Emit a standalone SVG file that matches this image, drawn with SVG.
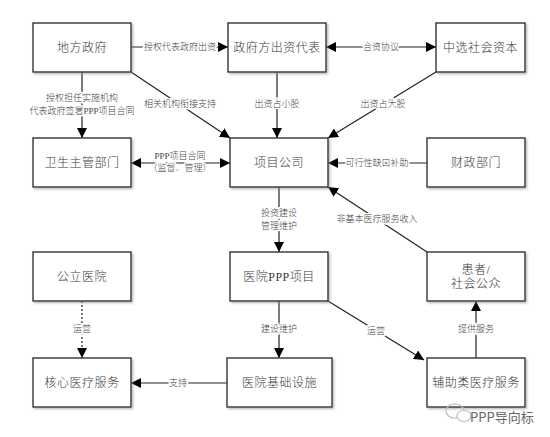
<svg xmlns="http://www.w3.org/2000/svg" width="550" height="437" viewBox="0 0 550 437">
<defs>
<marker id="ah" viewBox="0 0 10 10" refX="10" refY="5" markerWidth="10" markerHeight="10" markerUnits="userSpaceOnUse" orient="auto-start-reverse">
<path d="M0,0 L10,5 L0,10 z" fill="#000"/>
</marker>
<filter id="sh" x="-10%" y="-10%" width="130%" height="130%">
<feDropShadow dx="1.5" dy="1.5" stdDeviation="0.8" flood-color="#888" flood-opacity="0.6"/>
</filter>
</defs>
<style>
.box{fill:#fff;stroke:#222;stroke-width:1.3;filter:url(#sh)}
.bt{font-family:"Liberation Serif","Noto Sans CJK SC",serif;font-size:12px;font-weight:300;fill:#3a3a3a;text-anchor:middle;dominant-baseline:central;letter-spacing:0.5px}
.ln{stroke:#222;stroke-width:1.2;fill:none}
.lb{font-family:"Liberation Serif","Noto Sans CJK SC",serif;font-size:9px;font-weight:300;fill:#444;text-anchor:middle;dominant-baseline:central;stroke:#fff;stroke-width:3;paint-order:stroke}
</style>
<rect width="550" height="437" fill="#fff"/>
<g id="connectors">
<line class="ln" x1="131" y1="47" x2="228" y2="47" marker-end="url(#ah)"/>
<text class="lb" x="180" y="47">授权代表政府出资</text>
<line class="ln" x1="326" y1="47" x2="436" y2="47" marker-start="url(#ah)" marker-end="url(#ah)"/>
<text class="lb" x="381" y="47">合资协议</text>
<line class="ln" x1="82" y1="72" x2="82" y2="138" marker-end="url(#ah)"/>
<text class="lb" x="82" y="98">授权担任实施机构</text>
<text class="lb" x="82" y="111">代表政府签署PPP项目合同</text>
<line class="ln" x1="131" y1="72" x2="230" y2="138" marker-end="url(#ah)"/>
<text class="lb" x="180" y="104">相关机构衔接支持</text>
<line class="ln" x1="277" y1="72" x2="277" y2="138" marker-end="url(#ah)"/>
<text class="lb" x="277" y="104">出资占小股</text>
<line class="ln" x1="436" y1="72" x2="328" y2="138" marker-end="url(#ah)"/>
<text class="lb" x="383" y="104">出资占大股</text>
<line class="ln" x1="131" y1="163" x2="230" y2="163" marker-start="url(#ah)" marker-end="url(#ah)"/>
<text class="lb" x="180" y="156">PPP项目合同</text>
<text class="lb" x="180" y="168">（监督、管理）</text>
<line class="ln" x1="427" y1="163" x2="328" y2="163" marker-end="url(#ah)"/>
<text class="lb" x="377" y="163">可行性缺口补助</text>
<line class="ln" x1="279" y1="187" x2="279" y2="252" marker-end="url(#ah)"/>
<text class="lb" x="279" y="213">投资建设</text>
<text class="lb" x="279" y="226">管理维护</text>
<line class="ln" x1="427" y1="252" x2="328" y2="187" marker-end="url(#ah)"/>
<text class="lb" x="377" y="219">非基本医疗服务收入</text>
<line class="ln" x1="82" y1="301" x2="82" y2="358" stroke-dasharray="2,2" stroke-width="1.6" marker-end="url(#ah)"/>
<text class="lb" x="82" y="329">运营</text>
<line class="ln" x1="279" y1="301" x2="279" y2="358" marker-end="url(#ah)"/>
<text class="lb" x="279" y="329">建设维护</text>
<line class="ln" x1="328" y1="301" x2="424" y2="360" marker-end="url(#ah)"/>
<text class="lb" x="376" y="331">运营</text>
<line class="ln" x1="476" y1="358" x2="476" y2="301" marker-end="url(#ah)"/>
<text class="lb" x="476" y="329">提供服务</text>
<line class="ln" x1="227" y1="383" x2="131" y2="383" marker-end="url(#ah)"/>
<text class="lb" x="178" y="383">支持</text>
</g>
<g id="n1"><rect class="box" x="33" y="23" width="98" height="49"/><text class="bt" x="82" y="47.5">地方政府</text></g>
<g id="n2"><rect class="box" x="228" y="23" width="98" height="49"/><text class="bt" x="277" y="47.5">政府方出资代表</text></g>
<g id="n3"><rect class="box" x="436" y="23" width="89" height="49"/><text class="bt" x="480.5" y="47.5">中选社会资本</text></g>
<g id="n4"><rect class="box" x="33" y="138" width="98" height="49"/><text class="bt" x="82" y="162.5">卫生主管部门</text></g>
<g id="n5"><rect class="box" x="230" y="138" width="98" height="49"/><text class="bt" x="279" y="162.5">项目公司</text></g>
<g id="n6"><rect class="box" x="427" y="138" width="98" height="49"/><text class="bt" x="476" y="162.5">财政部门</text></g>
<g id="n7"><rect class="box" x="33" y="252" width="98" height="49"/><text class="bt" x="82" y="276.5">公立医院</text></g>
<g id="n8"><rect class="box" x="230" y="252" width="98" height="49"/><text class="bt" x="279" y="276.5">医院PPP项目</text></g>
<g id="n9"><rect class="box" x="427" y="252" width="98" height="49"/><text class="bt" x="476" y="269.5">患者/</text><text class="bt" x="476" y="283.5">社会公众</text></g>
<g id="n10"><rect class="box" x="33" y="358" width="98" height="49"/><text class="bt" x="82" y="382.5">核心医疗服务</text></g>
<g id="n11"><rect class="box" x="227" y="358" width="105" height="49"/><text class="bt" x="279.5" y="382.5">医院基础设施</text></g>
<g id="n12"><rect class="box" x="427" y="358" width="98" height="49"/><text class="bt" x="476" y="382.5">辅助类医疗服务</text></g>
<g id="watermark">
<ellipse cx="455" cy="411" rx="9" ry="7" fill="none" stroke="#bbb" stroke-width="1.2"/>
<ellipse cx="464" cy="416" rx="7" ry="5.5" fill="#fff" stroke="#bbb" stroke-width="1.2"/>
<text x="470" y="416" font-family="'Noto Sans CJK SC',sans-serif" font-size="13" fill="#666" dominant-baseline="central">PPP导向标</text>
</g>
</svg>
